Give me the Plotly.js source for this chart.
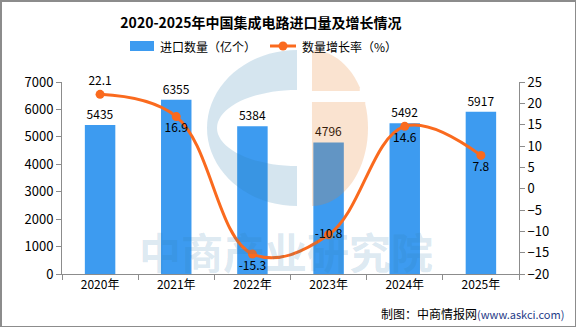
<!DOCTYPE html>
<html><head><meta charset="utf-8">
<script src="https://cdn.plot.ly/plotly-3.0.1.min.js"></script>
<style>
html,body{margin:0;padding:0;background:#fff;}
#wrap{position:relative;width:576px;height:327px;overflow:hidden;}
#chart{position:absolute;left:0;top:0;width:576px;height:327px;}
#frame{position:absolute;left:0;top:0;width:576px;height:327px;box-sizing:border-box;border:1px solid #8c8c8c;border-top-width:2px;border-left-width:2px;pointer-events:none;}
</style></head>
<body><div id="wrap"><div id="chart"></div><div id="frame"></div></div>
<script>
const years = ['2020年','2021年','2022年','2023年','2024年','2025年'];
const importQty = [5435, 6355, 5384, 4796, 5492, 5917];
const growthRate = [22.1, 16.9, -15.3, -10.8, 14.6, 7.8];
const seriesNames = ['进口数量（亿个）', '数量增长率（%）'];
const rateLabelPos = ['top center','bottom center','bottom center','middle center','bottom center','bottom center'];

const FONT = '"Noto Sans CJK SC", "DejaVu Sans", sans-serif';
const BAR_COLOR = '#3d9bf0';
const LINE_COLOR = '#fa6a1e';
const L = 62, R = 519, T = 82, B = 274;
const W = 576, H = 327;
const px = x => (x - L) / (R - L);
const py = y => (B - y) / (B - T);

function halfEllipse(cx, cy, rx, ry, side) {
  const pts = [];
  const n = 40;
  for (let i = 0; i <= n; i++) {
    const a = -Math.PI / 2 + Math.PI * i / n;
    pts.push([cx + side * rx * Math.cos(a), cy + ry * Math.sin(a)]);
  }
  return pts;
}
function toPath(pts) {
  return pts.map((p, i) => (i ? 'L' : 'M') + px(p[0]).toFixed(4) + ',' + py(p[1]).toFixed(4)).join(' ') + ' Z';
}
// Watermark logo
const outer = halfEllipse(297, 128, 90, 78, -1);
const inner = halfEllipse(297, 128, 80, 38, -1).reverse();
const cPath = toPath(outer.concat(inner));
const orangeFull = halfEllipse(312, 128, 56, 78, 1);
const orangeTop = orangeFull.filter(p => p[1] <= 91);
const orangeBot = orangeFull.filter(p => p[1] >= 102);
function clipTop() {
  const pts = [[312, 50]].concat(orangeTop);
  const last = orangeTop[orangeTop.length - 1];
  pts.push([last[0], 91]); pts.push([312, 91]);
  return pts;
}
function clipBot() {
  const first = orangeBot[0];
  const pts = [[312, 102], [first[0], 102]].concat(orangeBot);
  pts.push([312, 206]);
  return pts;
}
const shapes = [
  {type:'path', xref:'paper', yref:'paper', path: cPath, fillcolor:'rgba(47,125,175,0.2)', line:{width:0}, layer:'above'},
  {type:'path', xref:'paper', yref:'paper', path: toPath(clipTop()), fillcolor:'rgba(234,126,40,0.22)', line:{width:0}, layer:'above'},
  {type:'path', xref:'paper', yref:'paper', path: toPath(clipBot()), fillcolor:'rgba(234,126,40,0.22)', line:{width:0}, layer:'above'},
  // custom legend swatches
  {type:'rect', xref:'paper', yref:'paper', x0:px(130), x1:px(154), y0:py(51), y1:py(41), fillcolor:BAR_COLOR, line:{width:0}},
  {type:'line', xref:'paper', yref:'paper', x0:px(270), x1:px(296), y0:py(46), y1:py(46), line:{color:LINE_COLOR, width:3}},
  {type:'circle', xref:'paper', yref:'paper', x0:px(278.5), x1:px(287.5), y0:py(50.5), y1:py(41.5), fillcolor:LINE_COLOR, line:{width:0}}
];

const traces = [
  {
    type:'bar', name:seriesNames[0], x: years, y: importQty,
    marker:{color:BAR_COLOR}, width:0.4,
    text: importQty.map(String), textposition:'outside', cliponaxis:false,
    textfont:{family:FONT, size:12, color:'#000'}, yaxis:'y'
  },
  {
    type:'scatter', mode:'lines+markers+text', name:seriesNames[1], x: years, y: growthRate,
    yaxis:'y2', line:{color:LINE_COLOR, width:3, shape:'spline', smoothing:1.1},
    marker:{color:LINE_COLOR, size:9},
    text: growthRate.map(v => v.toFixed(1)), textposition: rateLabelPos, cliponaxis:false,
    textfont:{family:FONT, size:12, color:'#000'}
  }
];

const axisCommon = {showline:true, linecolor:'#8c8c8c', linewidth:1, ticks:'outside', ticklen:5, tickcolor:'#8c8c8c', showgrid:false, zeroline:false};

const layout = {
  width: W, height: H,
  margin:{l:L, r:W - R, t:T, b:H - B, pad:0},
  paper_bgcolor:'#fff', plot_bgcolor:'rgba(0,0,0,0)',
  font:{family:FONT, size:13, color:'#000'},
  title:{text:'<b>2020-2025年中国集成电路进口量及增长情况</b>', xref:'paper', x: px(261), xanchor:'center', y:1 - 23/H, yanchor:'middle', font:{family:FONT, size:14, color:'#000'}},
  showlegend:false,
  bargap:0.6,
  xaxis:Object.assign({type:'category', tickson:'boundaries', tickfont:{family:FONT, size:12, color:'#000'}}, axisCommon),
  yaxis:Object.assign({range:[0,7000], dtick:1000, tickfont:{family:FONT, size:13, color:'#000'}}, axisCommon),
  yaxis2:Object.assign({range:[-20,25], dtick:5, overlaying:'y', side:'right', tickfont:{family:FONT, size:13, color:'#000'}}, axisCommon),
  shapes: shapes,
  annotations:[
    {xref:'paper', yref:'paper', x: px(286), y: py(250), xanchor:'center', yanchor:'middle', showarrow:false,
     text:'<b>中商产业研究院</b>', font:{family:FONT, size:42, color:'rgba(47,125,175,0.18)'}},
    {xref:'paper', yref:'paper', x: px(158), y: py(46), xanchor:'left', yanchor:'middle', showarrow:false,
     text: seriesNames[0], font:{family:FONT, size:12, color:'#000'}},
    {xref:'paper', yref:'paper', x: px(300), y: py(46), xanchor:'left', yanchor:'middle', showarrow:false,
     text: seriesNames[1], font:{family:FONT, size:12, color:'#000'}},
    {xref:'paper', yref:'paper', x: px(566), y: py(313), xanchor:'right', yanchor:'middle', showarrow:false,
     text:'制图：中商情报网<span style="color:#1f3c88;font-size:11px">(www.askci.com)</span>', font:{family:FONT, size:12, color:'#000'}}
  ]
};

Plotly.newPlot('chart', traces, layout, {displayModeBar:false, staticPlot:true});
</script></body></html>
